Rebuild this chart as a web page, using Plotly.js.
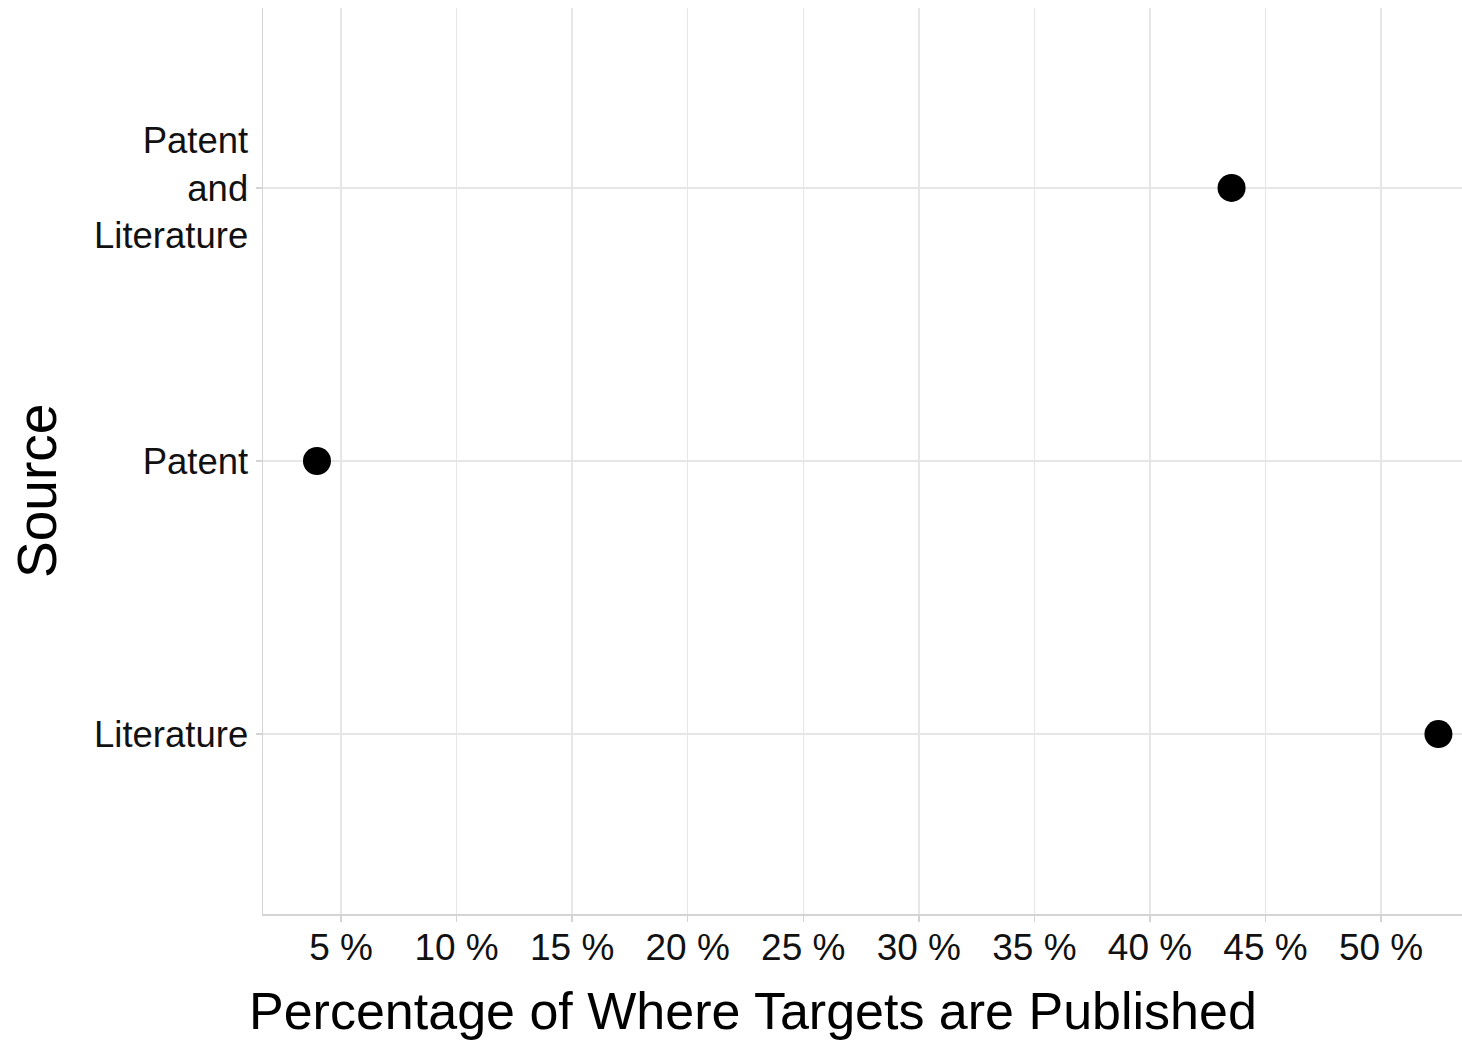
<!DOCTYPE html>
<html>
<head>
<meta charset="utf-8">
<script src="https://cdn.plot.ly/plotly-3.0.1.min.js"></script>
<style>html,body{margin:0;padding:0;background:#fff;}#chart{width:1462px;height:1042px;}</style>
</head>
<body>
<div id="chart"></div>
<script>
const categories = ["Literature", "Patent", "Patent and Literature"];
const yTickLabels = ["Literature", "Patent", "Patent<br>and<br>Literature"];
const percentages = [52.48, 3.96, 43.53];
const xTickValues = [5, 10, 15, 20, 25, 30, 35, 40, 45, 50];
const xTickLabels = ["5 %", "10 %", "15 %", "20 %", "25 %", "30 %", "35 %", "40 %", "45 %", "50 %"];
const xTitle = "Percentage of Where Targets are Published";
const yTitle = "Source";

const xRange = [1.625, 53.5];
const gridColor = "#e6e6e6";
const lineColor = "#d4d4d4";

const trace = {
  type: "scatter",
  mode: "markers",
  x: percentages,
  y: categories,
  marker: {color: "#000000", size: 28},
  hoverinfo: "x+y"
};

// empty helper trace so the tick-mark axis is always drawn
const tickTrace = {
  type: "scatter", mode: "markers", x: [], y: [],
  xaxis: "x2", yaxis: "y", hoverinfo: "skip", showlegend: false
};

const layout = {
  width: 1462,
  height: 1042,
  margin: {l: 263, r: 0, t: 8, b: 128},
  paper_bgcolor: "#ffffff",
  plot_bgcolor: "#ffffff",
  font: {family: "Liberation Sans, Arial, sans-serif", color: "#111111", size: 36},
  showlegend: false,
  xaxis: {
    range: xRange,
    tickmode: "array",
    tickvals: xTickValues,
    ticktext: xTickLabels,
    showgrid: true,
    gridcolor: gridColor,
    gridwidth: 1.5,
    zeroline: false,
    showline: true,
    linecolor: lineColor,
    linewidth: 1.5,
    ticks: "",
    ticklen: 0,
    tickfont: {size: 37, color: "#111111"}
  },
  xaxis2: {
    overlaying: "x",
    anchor: "y",
    side: "bottom",
    range: xRange,
    tickmode: "array",
    tickvals: xTickValues,
    showticklabels: false,
    showgrid: false,
    zeroline: false,
    showline: false,
    ticks: "outside",
    ticklen: 7,
    tickwidth: 1.5,
    tickcolor: lineColor
  },
  yaxis: {
    type: "category",
    categoryorder: "array",
    categoryarray: categories,
    tickvals: categories,
    ticktext: yTickLabels,
    range: [-0.659, 2.659],
    showgrid: true,
    gridcolor: gridColor,
    gridwidth: 1.5,
    zeroline: false,
    showline: true,
    linecolor: lineColor,
    linewidth: 1.5,
    ticks: "outside",
    ticklen: 6,
    tickwidth: 1.5,
    tickcolor: lineColor,
    tickfont: {size: 36.5, color: "#111111"}
  },
  annotations: [
    {
      text: xTitle, xref: "paper", yref: "paper",
      x: 0.4087, y: -0.107, xanchor: "center", yanchor: "middle",
      showarrow: false, font: {size: 52, color: "#000000"}
    },
    {
      text: yTitle, xref: "paper", yref: "paper",
      x: -0.1885, y: 0.4669, xanchor: "center", yanchor: "middle",
      textangle: -90,
      showarrow: false, font: {size: 55, color: "#000000"}
    }
  ]
};

Plotly.newPlot("chart", [trace, tickTrace], layout, {displayModeBar: false, staticPlot: true});
</script>
</body>
</html>
